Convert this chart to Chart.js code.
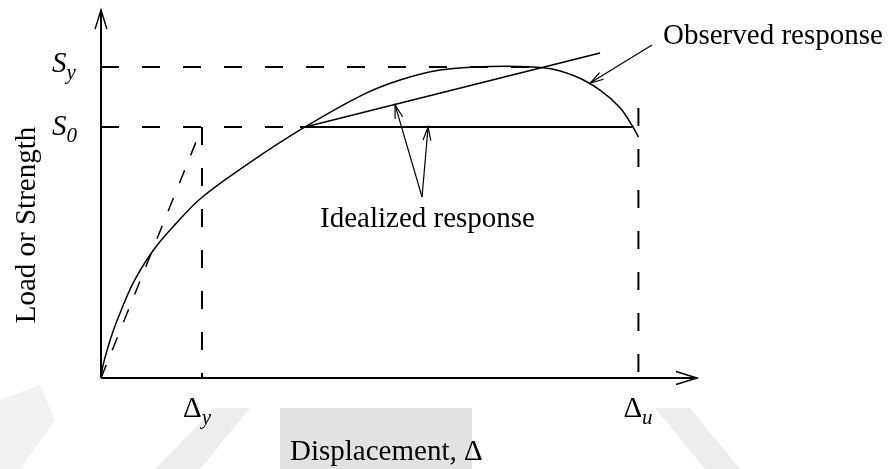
<!DOCTYPE html>
<html>
<head>
<meta charset="utf-8">
<script src="https://cdn.jsdelivr.net/npm/chart.js@4.4.0/dist/chart.umd.min.js"></script>
<style>
  html, body { margin: 0; padding: 0; background: #fff; }
  #wrap { width: 895px; height: 469px; position: relative; }
</style>
</head>
<body>
<div id="wrap"><canvas id="chart"></canvas></div>
<script>
// observed load-displacement curve (displacement in units of Δy, load in units of S0)
const obsDisp = [0, 0.02, 0.09, 0.16, 0.32, 0.52, 0.73, 1.0, 1.48, 2.02, 2.59, 2.96, 3.36, 3.85, 4.40, 4.69, 4.94, 5.14, 5.26, 5.32];
const obsLoad = [0, 0.05, 0.15, 0.23, 0.38, 0.51, 0.61, 0.72, 0.86, 1.0, 1.128, 1.187, 1.227, 1.241, 1.235, 1.203, 1.147, 1.076, 1.004, 0.96];

// idealized response
const idealFlatDisp = [1.97, 5.26];
const idealFlatLoad = [1.0, 1.0];
const idealSlopeDisp = [2.02, 4.94];
const idealSlopeLoad = [1.0, 1.295];
const elasticDisp = [0, 1.0];
const elasticLoad = [0, 1.0];

// reference levels
const dispYield = 1.0;     // Δy
const dispUlt = 5.32;      // Δu
const loadS0 = 1.0;        // S0
const loadSy = 1.239;      // Sy
const xMax = 5.9;
const yMax = 1.466;

// annotation arrows [tailX, tailY, headX, headY]
const observedArrow = [5.455, 1.327, 4.842, 1.175];
const idealArrows = [
    [3.178, 0.721, 2.911, 1.088],
    [3.178, 0.721, 3.238, 1.0]
];

function pts(xs, ys) {
    return xs.map((x, i) => ({ x: x, y: ys[i] }));
}

const serif = "'Liberation Serif', 'Times New Roman', serif";
const dashLong = [18, 23];

function lineSet(data, opts) {
    return Object.assign({
        data: data,
        showLine: true,
        borderColor: '#000',
        borderWidth: 1.5,
        pointRadius: 0,
        fill: false,
        clip: false,
        tension: 0
    }, opts || {});
}

// arrowhead helper
function arrowHead(ctx, x1, y1, x2, y2, len, spread) {
    const a = Math.atan2(y2 - y1, x2 - x1);
    ctx.beginPath();
    ctx.moveTo(x2 - len * Math.cos(a - spread), y2 - len * Math.sin(a - spread));
    ctx.lineTo(x2, y2);
    ctx.lineTo(x2 - len * Math.cos(a + spread), y2 - len * Math.sin(a + spread));
    ctx.stroke();
}

// faint watermark shapes behind the diagram
const backdrop = {
    id: 'backdrop',
    beforeDraw(chart) {
        const ctx = chart.ctx;
        ctx.save();
        ctx.fillStyle = '#fff';
        ctx.fillRect(0, 0, chart.width, chart.height);
        ctx.fillStyle = '#e2e2e2';
        ctx.fillRect(280, 408, 192, 61);
        ctx.fillStyle = '#ededed';
        ctx.beginPath();
        ctx.moveTo(155, 469); ctx.lineTo(200, 469); ctx.lineTo(250, 408); ctx.lineTo(215, 408);
        ctx.closePath(); ctx.fill();
        ctx.beginPath();
        ctx.moveTo(655, 408); ctx.lineTo(690, 408); ctx.lineTo(740, 469); ctx.lineTo(705, 469);
        ctx.closePath(); ctx.fill();
        ctx.fillStyle = '#f2f2f2';
        ctx.beginPath();
        ctx.moveTo(0, 400); ctx.lineTo(40, 385); ctx.lineTo(55, 420); ctx.lineTo(20, 469); ctx.lineTo(0, 469);
        ctx.closePath(); ctx.fill();
        ctx.restore();
    }
};

// axis arrows, annotation arrows and labels
const annotate = {
    id: 'annotate',
    afterDatasetsDraw(chart) {
        const ctx = chart.ctx;
        const xs = chart.scales.x, ys = chart.scales.y;
        const px = v => xs.getPixelForValue(v);
        const py = v => ys.getPixelForValue(v);
        ctx.save();
        ctx.strokeStyle = '#000';
        ctx.fillStyle = '#000';
        ctx.lineWidth = 1.5;

        // axis arrowheads
        arrowHead(ctx, px(0), py(0), px(xMax), py(0), 22, 0.3);
        arrowHead(ctx, px(0), py(0), px(0), py(yMax), 20, 0.3);

        // annotation arrows
        ctx.lineWidth = 1.2;
        [observedArrow].concat(idealArrows).forEach(a => {
            const x1 = px(a[0]), y1 = py(a[1]), x2 = px(a[2]), y2 = py(a[3]);
            ctx.beginPath();
            ctx.moveTo(x1, y1);
            ctx.lineTo(x2, y2);
            ctx.stroke();
            arrowHead(ctx, x1, y1, x2, y2, 14, 0.28);
        });

        ctx.textBaseline = 'alphabetic';
        ctx.textAlign = 'left';

        // S_y, S_0, Δy, Δu labels
        function subLabel(main, sub, x, y, mainItalic) {
            ctx.font = (mainItalic ? 'italic ' : '') + '29px ' + serif;
            ctx.fillText(main, x, y);
            const w = ctx.measureText(main).width;
            ctx.font = 'italic 21px ' + serif;
            ctx.fillText(sub, x + w, y + 7);
        }
        subLabel('S', 'y', 52, py(loadSy) + 5, true);
        subLabel('S', '0', 52, py(loadS0) + 8, true);
        subLabel('Δ', 'y', px(dispYield) - 19, 417, false);
        subLabel('Δ', 'u', px(dispUlt) - 15, 417, false);

        ctx.font = '29px ' + serif;
        ctx.fillText('Observed response', 663, 44);
        ctx.fillText('Idealized response', 320, 227);
        ctx.fillText('Displacement, Δ', 290, 460);

        ctx.save();
        ctx.translate(35, 225);
        ctx.rotate(-Math.PI / 2);
        ctx.textAlign = 'center';
        ctx.fillText('Load or Strength', 0, 0);
        ctx.restore();

        ctx.restore();
    }
};

const chart = new Chart(document.getElementById('chart'), {
    type: 'scatter',
    data: {
        datasets: [
            // axes
            lineSet(pts([0, xMax], [0, 0]), { borderWidth: 2 }),
            lineSet(pts([0, 0], [0, yMax]), { borderWidth: 2 }),
            // guide lines
            lineSet(pts([0, 4.4], [loadSy, loadSy]), { borderDash: dashLong, borderWidth: 2 }),
            lineSet(pts([0, idealFlatDisp[0]], [loadS0, loadS0]), { borderDash: dashLong, borderWidth: 2 }),
            lineSet(pts([dispYield, dispYield], [loadS0, 0]), { borderDash: dashLong, borderWidth: 2 }),
            lineSet(pts([dispUlt, dispUlt], [1.076, 0]), { borderDash: dashLong, borderWidth: 2 }),
            // idealized response
            lineSet(pts(elasticDisp, elasticLoad), { borderDash: [14, 16], borderWidth: 1.5 }),
            lineSet(pts(idealFlatDisp, idealFlatLoad), { borderWidth: 1.8 }),
            lineSet(pts(idealSlopeDisp, idealSlopeLoad), { borderWidth: 1.5 }),
            // observed response
            lineSet(pts(obsDisp, obsLoad), { tension: 0.35, borderWidth: 1.5 })
        ]
    },
    options: {
        responsive: true,
        maintainAspectRatio: false,
        animation: false,
        layout: {
            padding: { left: 101, right: 198, top: 10, bottom: 91 }
        },
        plugins: {
            legend: { display: false },
            tooltip: { enabled: false }
        },
        scales: {
            x: { type: 'linear', min: 0, max: xMax, display: false },
            y: { type: 'linear', min: 0, max: yMax, display: false }
        }
    },
    plugins: [backdrop, annotate]
});
</script>
</body>
</html>
